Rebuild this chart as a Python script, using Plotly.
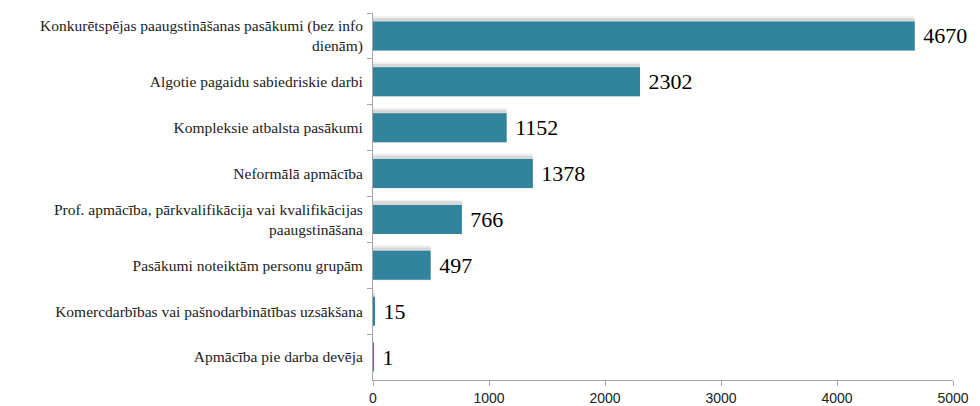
import plotly.graph_objects as go

categories = [
    'Konkurētspējas paaugstināšanas pasākumi (bez info<br>dienām)',
    'Algotie pagaidu sabiedriskie darbi',
    'Kompleksie atbalsta pasākumi',
    'Neformālā apmācība',
    'Prof. apmācība, pārkvalifikācija vai kvalifikācijas<br>paaugstināšana',
    'Pasākumi noteiktām personu grupām',
    'Komercdarbības vai pašnodarbinātības uzsākšana',
    'Apmācība pie darba devēja',
]
values = [4670, 2302, 1152, 1378, 766, 497, 15, 1]
x_ticks = [0, 1000, 2000, 3000, 4000, 5000]

serif = 'Liberation Serif'
sans = 'Liberation Sans'

fig = go.Figure()
# soft shadow behind the bars (two layers to fake a blur)
fig.add_trace(go.Bar(
    y=categories, x=values, orientation='h',
    marker=dict(color='rgba(0,0,0,0.06)', line=dict(width=0)),
    width=0.76, offset=-0.43,
    hoverinfo='skip', showlegend=False))
fig.add_trace(go.Bar(
    y=categories, x=values, orientation='h',
    marker=dict(color='rgba(0,0,0,0.10)', line=dict(width=0)),
    width=0.70, offset=-0.39,
    hoverinfo='skip', showlegend=False))
fig.add_trace(go.Bar(
    y=categories, x=values, orientation='h',
    marker=dict(color='#31849B', line=dict(width=0)),
    width=0.63,
    text=values, texttemplate=' %{text}', textposition='outside',
    textfont=dict(family=serif, size=22, color='black'),
    cliponaxis=False, showlegend=False))

# page body adds an 8px margin, so the figure is 8px smaller than the window
fig.update_layout(
    barmode='overlay',
    width=972, height=398,
    margin=dict(l=365, r=27, t=5, b=26),
    plot_bgcolor='white', paper_bgcolor='white',
    font=dict(family=serif, size=15, color='#222'),
)
fig.update_xaxes(range=[0, 5000], tickvals=x_ticks, showgrid=False,
                 showline=True, linecolor='#a6a6a6', ticks='outside',
                 ticklen=5, tickcolor='#a6a6a6', zeroline=False,
                 automargin=False,
                 tickfont=dict(family=sans, size=14, color='#222'))
fig.update_yaxes(autorange='reversed', showgrid=False, showline=True,
                 linecolor='#a6a6a6', ticks='outside', ticklen=5,
                 tickcolor='#a6a6a6', tickson='boundaries',
                 automargin=False, ticklabelstandoff=6,
                 tickfont=dict(family=serif, size=15.5, color='#222'))

fig.write_html("out.html")
